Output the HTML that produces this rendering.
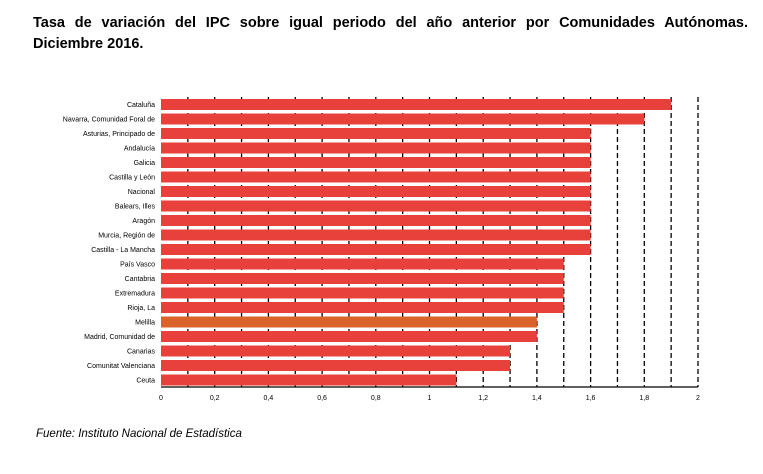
<!DOCTYPE html>
<html><head><meta charset="utf-8"><style>
body{margin:0;background:#fff;font-family:"Liberation Sans",sans-serif}
#t{position:absolute;left:33px;top:12px;width:715px;font-size:14.5px;font-weight:bold;line-height:22px;text-align:justify;text-align-last:justify}
#t2{position:absolute;left:33px;top:36px;font-size:14.5px;font-weight:bold}
#src{position:absolute;left:36px;top:428px;font-size:11.5px;font-style:italic}
</style></head><body>
<div id="t">Tasa de variación del IPC sobre igual periodo del año anterior por Comunidades Autónomas.</div>
<div id="t2">Diciembre 2016.</div>
<svg id="c" width="763" height="474" style="position:absolute;left:0;top:0"></svg>
<div id="src">Fuente: Instituto Nacional de Estadística</div>
<script>
const categories=["Cataluña","Navarra, Comunidad Foral de","Asturias, Principado de","Andalucía","Galicia","Castilla y León","Nacional","Balears, Illes","Aragón","Murcia, Región de","Castilla - La Mancha","País Vasco","Cantabria","Extremadura","Rioja, La","Melilla","Madrid, Comunidad de","Canarias","Comunitat Valenciana","Ceuta"];
const values=[1.9,1.8,1.6,1.6,1.6,1.6,1.6,1.6,1.6,1.6,1.6,1.5,1.5,1.5,1.5,1.4,1.4,1.3,1.3,1.1];
const tickLabels=["0","0,2","0,4","0,6","0,8","1","1,2","1,4","1,6","1,8","2"];
const svg=document.getElementById('c'),NS='http://www.w3.org/2000/svg';
const x0=161,x1=698,maxV=2,yTop=97,yBot=387;
const xs=v=>x0+(x1-x0)*v/maxV;
const pitch=(yBot-yTop)/categories.length;
function mk(n,a){const e=document.createElementNS(NS,n);for(const k in a)e.setAttribute(k,a[k]);svg.appendChild(e);return e;}
for(let i=1;i<=20;i++){const g=mk('line',{x1:xs(i*0.1),x2:xs(i*0.1),y1:yTop,y2:yBot,stroke:'#000','stroke-width':1.3,'stroke-dasharray':'5,3'});

}
categories.forEach((c,i)=>{const y=yTop+i*pitch+2;
const r=mk('rect',{x:x0,y:y,width:xs(values[i])-x0,height:pitch-3.5,fill:c==="Melilla"?'#d9632a':'#e8403a'});


const t=mk('text',{x:x0-6,y:y+(pitch-3.5)/2+2.5,'text-anchor':'end','font-size':7,fill:'#000'});t.textContent=c;

});
const ax=mk('line',{x1:x0,x2:x1,y1:yBot,y2:yBot,stroke:'#000','stroke-width':1.3});


tickLabels.forEach((l,i)=>{const t=mk('text',{x:xs(i*0.2),y:yBot+13,'text-anchor':'middle','font-size':7,fill:'#000'});t.textContent=l;

});
</script>
</body></html>
